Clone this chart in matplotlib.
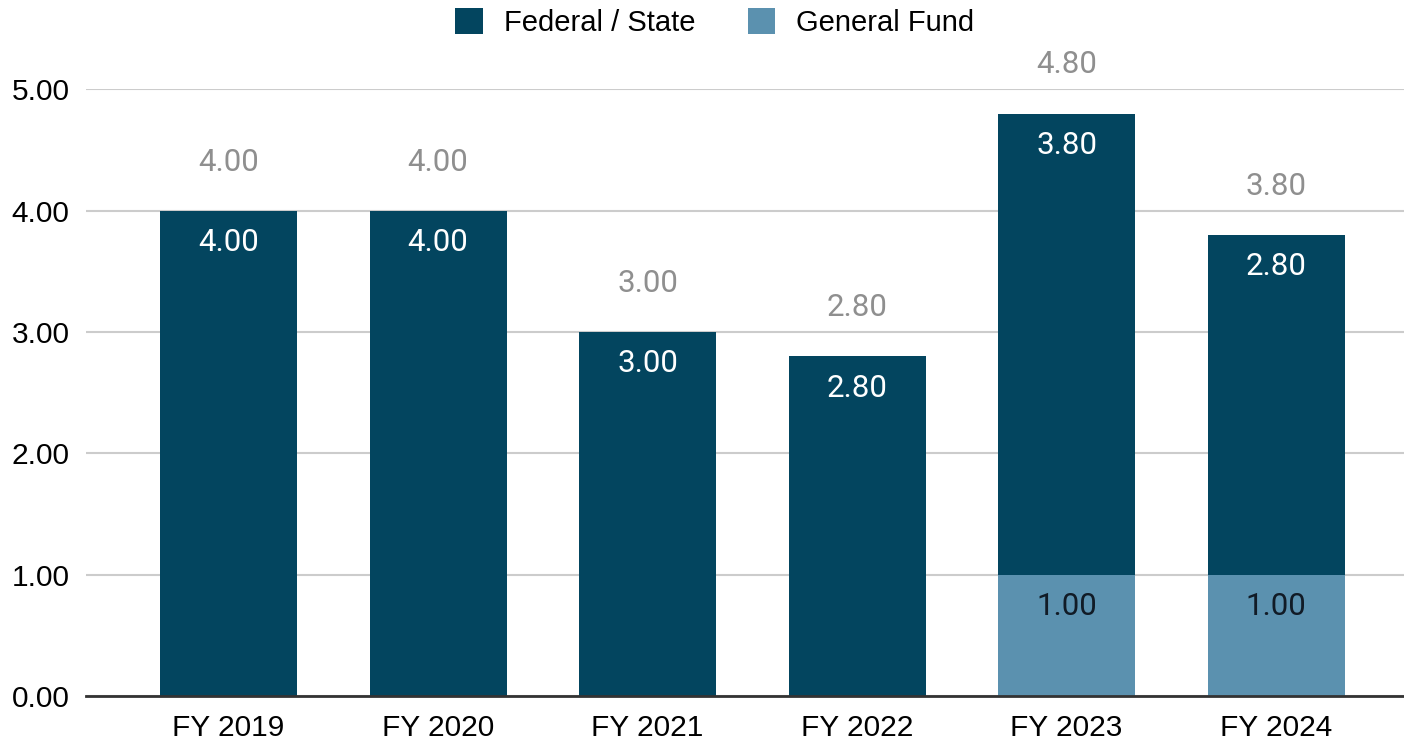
import matplotlib.pyplot as plt
import numpy as np

years = ['FY 2019', 'FY 2020', 'FY 2021', 'FY 2022', 'FY 2023', 'FY 2024']
general_fund = [0, 0, 0, 0, 1.00, 1.00]
federal_state = [4.00, 4.00, 3.00, 2.80, 3.80, 2.80]

DARK = '#03455f'
LIGHT = '#5b91af'

fig = plt.figure(figsize=(14.04, 7.44), dpi=100)
ax = fig.add_axes([0.0613, 0.0645, 0.9387, 0.8155])

x = np.arange(len(years))
gf = np.array(general_fund)
fs = np.array(federal_state)
total = gf + fs
w = 0.654

b1 = ax.bar(x, gf, w, color=LIGHT, zorder=3, label='General Fund')
b2 = ax.bar(x, fs, w, bottom=gf, color=DARK, zorder=3, label='Federal / State')

lab_font = dict(family='Roboto', fontsize=22.5)
for i in range(len(years)):
    if gf[i] > 0:
        ax.annotate(f'{gf[i]:.2f}', (x[i], gf[i]), xytext=(0, -23),
                    textcoords='offset points', ha='center', va='center',
                    color='#111b26', **lab_font)
    ax.annotate(f'{fs[i]:.2f}', (x[i], total[i]), xytext=(0, -23),
                textcoords='offset points', ha='center', va='center',
                color='white', **lab_font)
    ax.annotate(f'{total[i]:.2f}', (x[i], total[i]), xytext=(0, 35),
                textcoords='offset points', ha='center', va='center',
                color='#8f8f8f', annotation_clip=False, **lab_font)

ax.set_ylim(0, 5)
ax.set_xlim(-0.68, 5.61)
ax.set_yticks(np.arange(0, 6, 1))
ax.set_yticklabels([f'{v:.2f}' for v in range(6)], family='Liberation Sans', fontsize=21.5)
ax.set_xticks(x)
ax.set_xticklabels(years, family='Liberation Sans', fontsize=21.5)
ax.tick_params(axis='x', length=0, pad=13)
ax.tick_params(axis='y', length=0, pad=12)

ax.grid(axis='y', color='#cccccc', lw=1.5, zorder=0)
for s in ['top', 'right', 'left']:
    ax.spines[s].set_visible(False)
ax.spines['bottom'].set_color('#333333')
ax.spines['bottom'].set_linewidth(2)
ax.spines['bottom'].set_zorder(4)

fig.legend(handles=[b2, b1], loc='upper center', bbox_to_anchor=(0.509, 1.024),
           ncol=2, frameon=False, prop={'family': 'Liberation Sans', 'size': 21},
           handlelength=0.95, handleheight=0.95, columnspacing=1.8, handletextpad=0.7)

fig.savefig('out.png', dpi=100)
